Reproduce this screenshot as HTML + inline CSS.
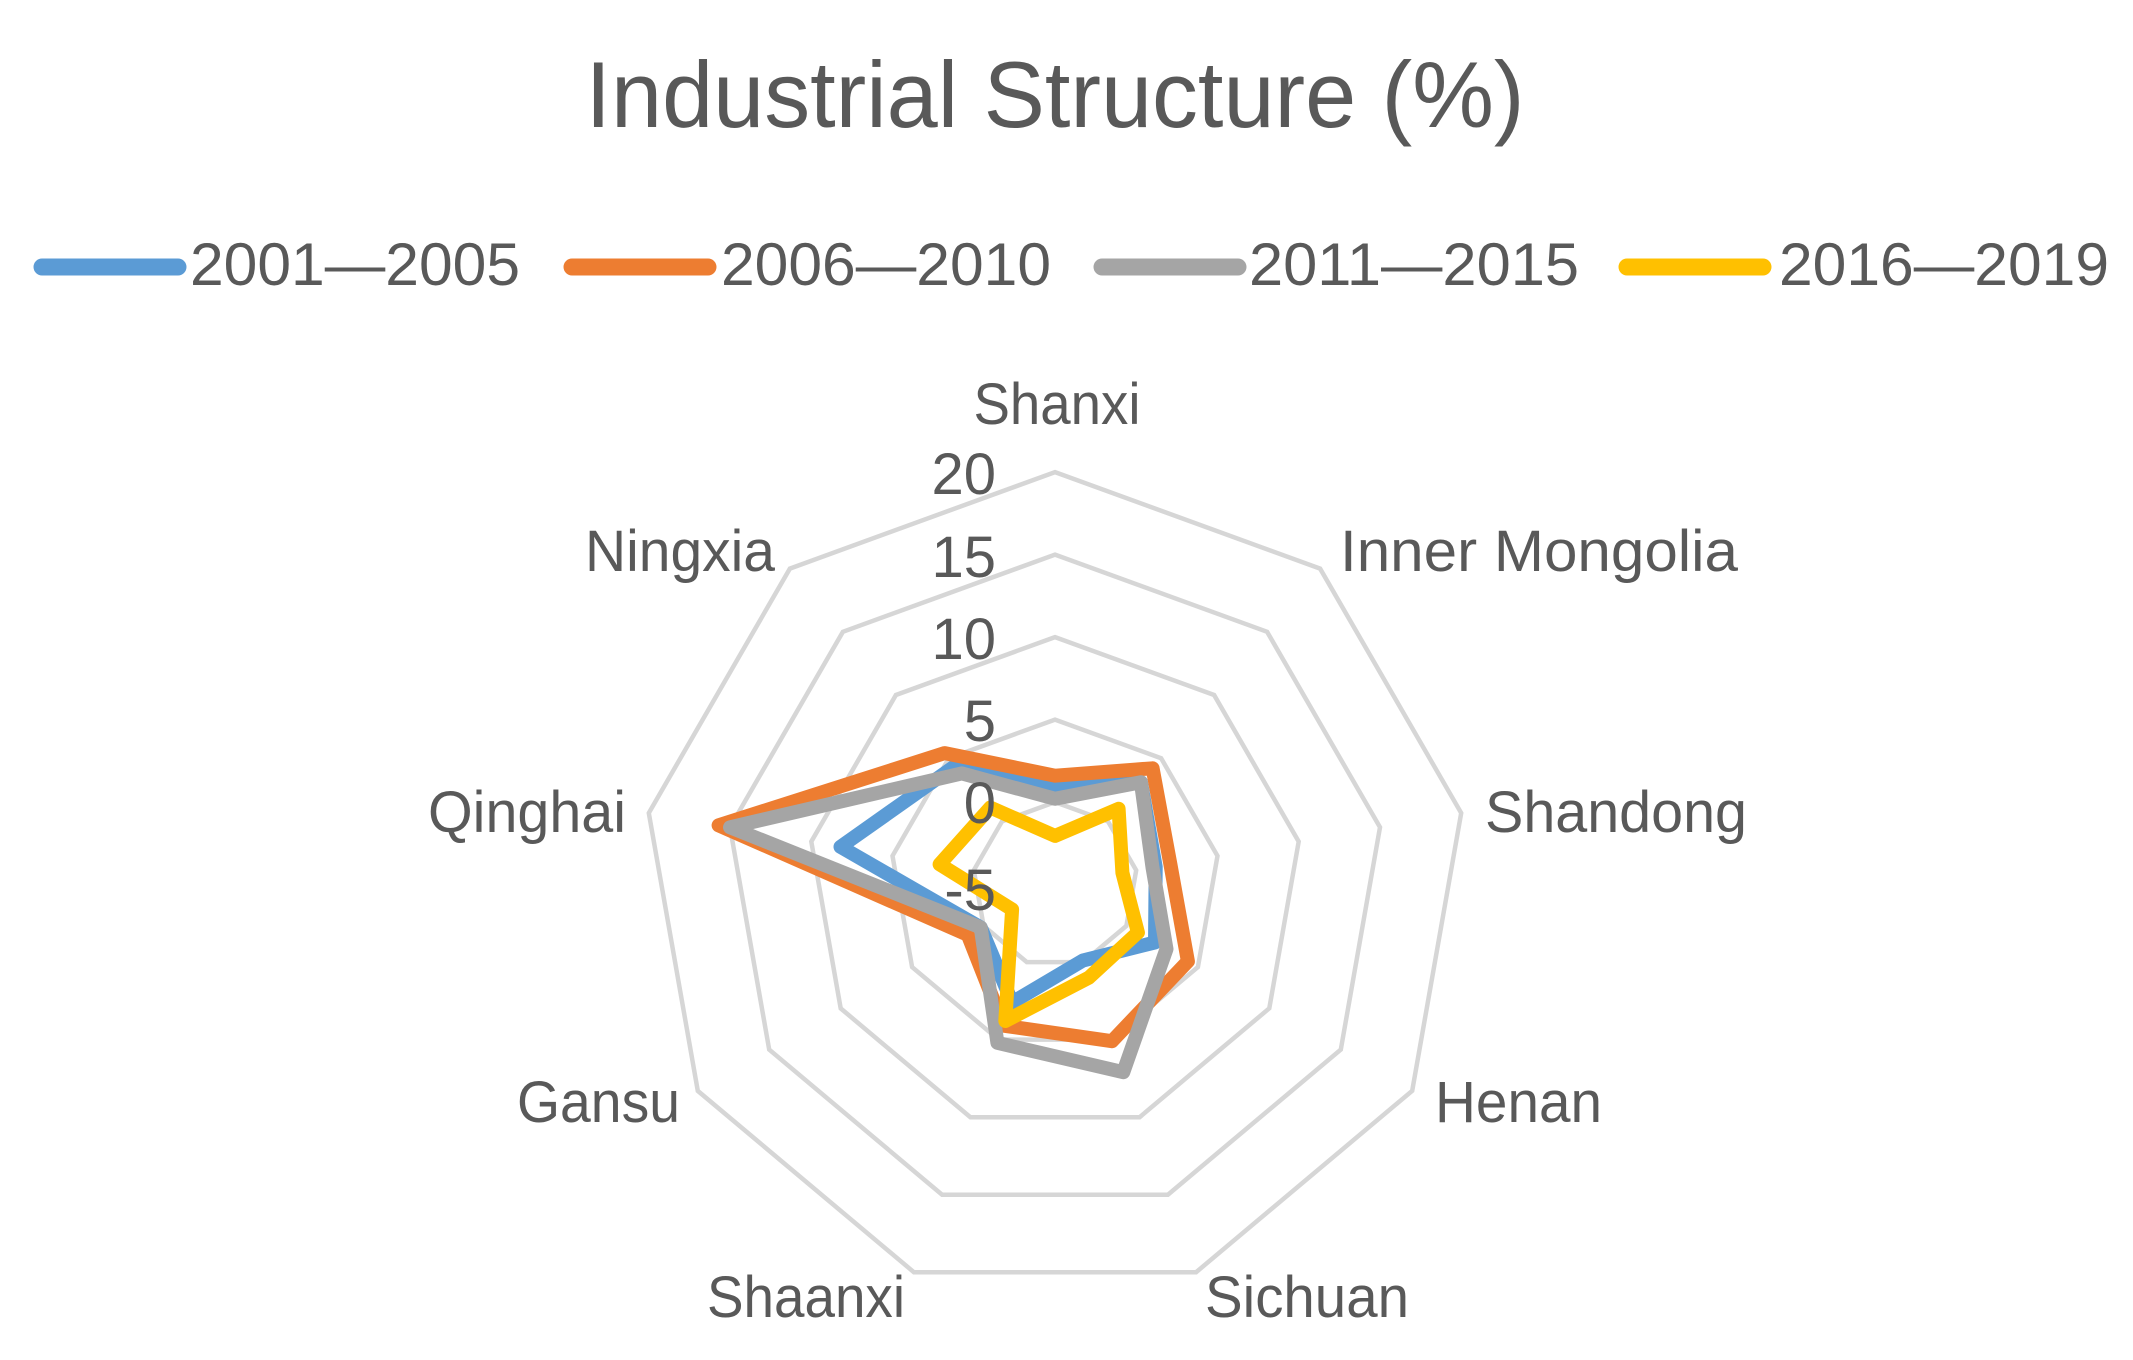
<!DOCTYPE html>
<html><head><meta charset="utf-8"><style>html,body{margin:0;padding:0;background:#fff}svg{display:block}</style></head>
<body>
<svg id="s" width="2133" height="1360" xmlns="http://www.w3.org/2000/svg" font-family="Liberation Sans, sans-serif" fill="#595959">
<text x="1055" y="127" font-size="94" text-anchor="middle" textLength="939" lengthAdjust="spacingAndGlyphs">Industrial Structure (%)</text>
<g stroke-width="17" stroke-linecap="round">
<line x1="42" y1="267" x2="178" y2="267" stroke="#5B9BD5"/>
<line x1="572" y1="267" x2="708" y2="267" stroke="#ED7D31"/>
<line x1="1102" y1="267" x2="1238" y2="267" stroke="#A5A5A5"/>
<line x1="1627" y1="267" x2="1763" y2="267" stroke="#FFC000"/>
</g>
<g font-size="60">
<text x="190" y="285" textLength="330" lengthAdjust="spacingAndGlyphs">2001—2005</text>
<text x="721" y="285" textLength="330" lengthAdjust="spacingAndGlyphs">2006—2010</text>
<text x="1249" y="285" textLength="330" lengthAdjust="spacingAndGlyphs">2011—2015</text>
<text x="1779" y="285" textLength="330" lengthAdjust="spacingAndGlyphs">2016—2019</text>
</g>
<g id="grid" fill="none" stroke="#D6D6D6" stroke-width="4.5"></g>
<g id="ser" fill="none" stroke-width="14" stroke-linejoin="round"></g>
<g font-size="58" text-anchor="end">
<text x="996" y="494">20</text>
<text x="996" y="577">15</text>
<text x="996" y="659">10</text>
<text x="996" y="741">5</text>
<text x="996" y="823">0</text>
<text x="996" y="910">-5</text>
</g>
<g font-size="58">
<text x="1057" y="424" text-anchor="middle" textLength="167" lengthAdjust="spacingAndGlyphs">Shanxi</text>
<text x="1340" y="571" textLength="398" lengthAdjust="spacingAndGlyphs">Inner Mongolia</text>
<text x="1485" y="832" textLength="262" lengthAdjust="spacingAndGlyphs">Shandong</text>
<text x="1435" y="1122" textLength="167" lengthAdjust="spacingAndGlyphs">Henan</text>
<text x="1205" y="1317" textLength="204" lengthAdjust="spacingAndGlyphs">Sichuan</text>
<text x="707" y="1317" textLength="198" lengthAdjust="spacingAndGlyphs">Shaanxi</text>
<text x="517" y="1122" textLength="163" lengthAdjust="spacingAndGlyphs">Gansu</text>
<text x="428" y="832" textLength="198" lengthAdjust="spacingAndGlyphs">Qinghai</text>
<text x="585" y="571" textLength="190" lengthAdjust="spacingAndGlyphs">Ningxia</text>
</g>
</svg>
<script>
var cx=1055,cy=884.6,k=16.5,NS="http://www.w3.org/2000/svg";
function pts(vals){return vals.map(function(v,i){var a=i*40*Math.PI/180,r=(v+5)*k;return (cx+r*Math.sin(a)).toFixed(1)+","+(cy-r*Math.cos(a)).toFixed(1);}).join(" ");}
var g=document.getElementById("grid");
[0,5,10,15,20].forEach(function(v){var p=document.createElementNS(NS,"polygon");p.setAttribute("points",pts([v,v,v,v,v,v,v,v,v]));g.appendChild(p);});
var data=[
["#5B9BD5",[0.8,3.1,1.2,2.0,-0.1,2.6,0.2,8.2,4.4]],
["#ED7D31",[1.6,4.2,2.1,4.3,5.1,4.1,1.1,15.7,5.4]],
["#A5A5A5",[0.2,3.1,1.0,2.8,7.1,5.2,0.2,15.0,3.8]],
["#FFC000",[-2.05,1.0,-0.85,0.8,1.0,3.8,-2.0,2.1,1.1]]];
var s=document.getElementById("ser");
data.forEach(function(d){var p=document.createElementNS(NS,"polygon");p.setAttribute("points",pts(d[1]));p.setAttribute("stroke",d[0]);s.appendChild(p);});
</script>
</body></html>
